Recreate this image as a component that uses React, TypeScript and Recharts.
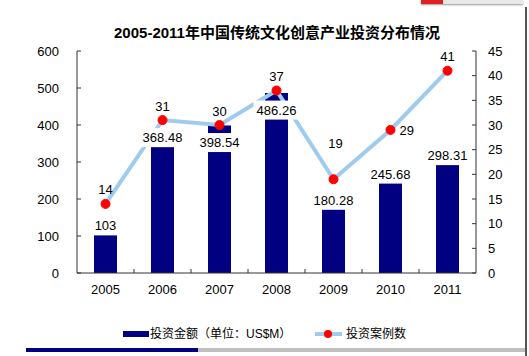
import React from 'react';
import {
  ComposedChart,
  Bar,
  Line,
  XAxis,
  YAxis,
  Legend,
  LabelList
} from 'recharts';

// data
const years = ['2005', '2006', '2007', '2008', '2009', '2010', '2011'];
const amounts = [103, 368.48, 398.54, 486.26, 180.28, 245.68, 298.31];
const cases = [14, 31, 30, 37, 19, 29, 41];
const amountTicks = [0, 100, 200, 300, 400, 500, 600];
const caseTicks = [0, 5, 10, 15, 20, 25, 30, 35, 40, 45];

const data = years.map((year, i) => ({ year, amount: amounts[i], cases: cases[i] }));

const W = 529;
const H = 356;
const PLOT_LEFT = 77;
const PLOT_RIGHT = 476;
const BAND = (PLOT_RIGHT - PLOT_LEFT) / years.length;

const NAVY = '#000080';
const LINE_BLUE = '#9fcbef';
const DOT_RED = '#ff0000';
const AXIS = '#333333';
const FONT = '"Liberation Sans", Arial, "Noto Sans CJK SC", sans-serif';

// x axis: year label at centre, tick marks on the band edges pointing up
const YearTick = (props: any) => {
  const { x, y, payload, index } = props;
  const left = x - BAND / 2;
  return (
    <g>
      {index > 0 && <line x1={left} x2={left} y1={273} y2={269} stroke={AXIS} />}
      <text x={x} y={y} dy="0.71em" textAnchor="middle" fontSize={13} fill="#000" fontFamily={FONT}>
        {payload.value}
      </text>
    </g>
  );
};

// bar values sit in white boxes; a few were moved down onto the bar in the original
const AmountLabel = (props: any) => {
  const { x, y, width, value, index } = props;
  const shift = [-9, 1, 17, 17, -6, -8, -7][index] ?? -8;
  const cx = x + width / 2;
  const cy = y + shift;
  const text = String(value);
  const boxW = text.length * 7 + 4;
  return (
    <g>
      <rect x={cx - boxW / 2} y={cy - 9.5} width={boxW} height={19} fill="#fff" />
      <text x={cx} y={cy} dominantBaseline="central" textAnchor="middle" fontSize={13} fill="#000" fontFamily={FONT}>
        {text}
      </text>
    </g>
  );
};

const CaseLabel = (props: any) => {
  const { x, y, value, index } = props;
  if (index === 5) {
    return (
      <text x={x + 9} y={y + 1} dominantBaseline="central" textAnchor="start" fontSize={13} fill="#000" fontFamily={FONT}>
        {value}
      </text>
    );
  }
  const dy = index === 4 ? -36 : -14;
  return (
    <text x={x + (index === 4 ? 2 : 0)} y={y + dy} dominantBaseline="central" textAnchor="middle" fontSize={13} fill="#000" fontFamily={FONT}>
      {value}
    </text>
  );
};

const LegendBox = () => (
  <div style={{ position: 'relative', height: 20, fontFamily: FONT, fontSize: 12, color: '#000' }}>
    <div style={{ position: 'absolute', left: 123, top: 7, width: 26, height: 6, background: NAVY }} />
    <div style={{ position: 'absolute', left: 150, top: 2, lineHeight: '16px', whiteSpace: 'nowrap' }}>
      投资金额（单位：US$M）
    </div>
    <div style={{ position: 'absolute', left: 315, top: 8, width: 27, height: 4, background: LINE_BLUE }} />
    <div style={{ position: 'absolute', left: 324, top: 6, width: 8, height: 8, borderRadius: 4, background: DOT_RED }} />
    <div style={{ position: 'absolute', left: 346, top: 2, lineHeight: '16px', whiteSpace: 'nowrap' }}>
      投资案例数
    </div>
  </div>
);

export default function App() {
  return (
    <div style={{ position: 'absolute', left: 0, top: 0, width: W, height: H, background: '#fff', overflow: 'hidden' }}>
      {/* screenshot leftovers: tab at the top, frame on the right, bar at the bottom */}
      <div style={{ position: 'absolute', left: 421, top: 0, width: 102, height: 4, background: '#e8e8e8', boxShadow: '0 1px 2px #999' }} />
      <div style={{ position: 'absolute', left: 421, top: 0, width: 22, height: 4, background: '#e02020' }} />
      <div style={{ position: 'absolute', left: 525, top: 7, width: 2, height: H, background: '#555' }} />
      <div style={{ position: 'absolute', left: 26, top: 348, width: 172, height: 4, background: NAVY }} />
      <div style={{ position: 'absolute', left: 198, top: 348, width: 327, height: 4, background: '#c0c0c0' }} />

      <div
        style={{
          position: 'absolute',
          left: 0,
          top: 23,
          width: 554,
          textAlign: 'center',
          fontFamily: '"Liberation Sans", Arial, "Noto Sans CJK SC", sans-serif',
          fontWeight: 'bold',
          fontSize: 15,
          lineHeight: '20px'
        }}
      >
        2005-2011年中国传统文化创意产业投资分布情况
      </div>

      <ComposedChart
        width={W}
        height={H}
        data={data}
        margin={{ top: 51, right: 0, bottom: 12, left: 0 }}
        style={{ position: 'absolute', left: 0, top: 0 }}
      >
        <XAxis
          dataKey="year"
          height={51}
          axisLine={{ stroke: AXIS }}
          tickLine={false}
          tickSize={-4}
          tickMargin={16}
          tick={<YearTick />}
          interval={0}
        />
        <YAxis
          yAxisId="left"
          width={77}
          domain={[0, 600]}
          ticks={amountTicks}
          axisLine={{ stroke: AXIS }}
          tickLine={{ stroke: AXIS }}
          tickSize={-4}
          tickMargin={22}
          tick={{ fontSize: 13, fill: '#000', fontFamily: FONT }}
        />
        <YAxis
          yAxisId="right"
          orientation="right"
          width={53}
          domain={[0, 45]}
          ticks={caseTicks}
          axisLine={{ stroke: AXIS }}
          tickLine={{ stroke: AXIS }}
          tickSize={-4}
          tickMargin={16}
          tick={{ fontSize: 13, fill: '#000', fontFamily: FONT }}
        />
        <Legend verticalAlign="bottom" height={20} content={<LegendBox />} />
        <Bar yAxisId="left" dataKey="amount" fill={NAVY} barSize={23} isAnimationActive={false}>
          <LabelList dataKey="amount" content={<AmountLabel />} />
        </Bar>
        <Line
          yAxisId="right"
          dataKey="cases"
          type="linear"
          stroke={LINE_BLUE}
          strokeWidth={4}
          dot={{ r: 4.5, fill: DOT_RED, stroke: DOT_RED, strokeWidth: 1 }}
          activeDot={false}
          isAnimationActive={false}
        >
          <LabelList dataKey="cases" content={<CaseLabel />} />
        </Line>
      </ComposedChart>
    </div>
  );
}
